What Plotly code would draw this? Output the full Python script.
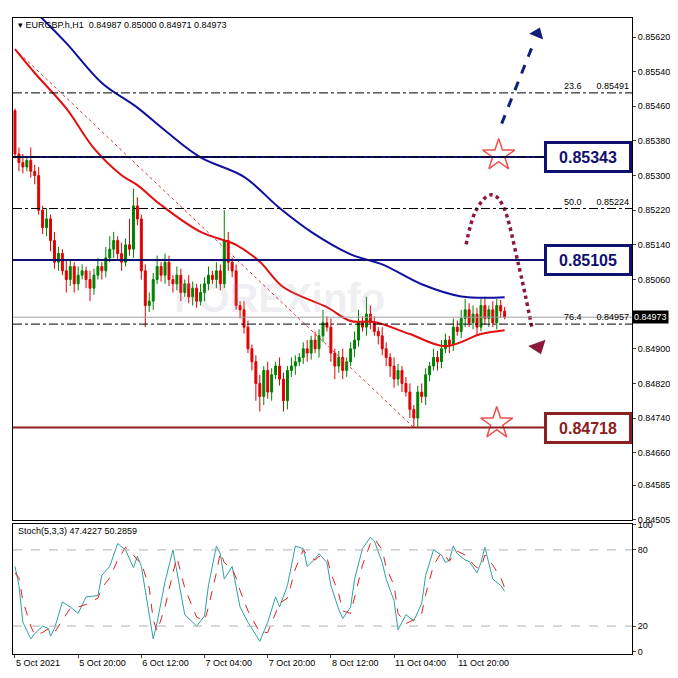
import plotly.graph_objects as go

time_labels = ["5 Oct 2021", "5 Oct 20:00", "6 Oct 12:00", "7 Oct 04:00", "7 Oct 20:00",
               "8 Oct 12:00", "11 Oct 04:00", "11 Oct 20:00"]
time_label_idx = [0, 16, 32, 48, 64, 80, 96, 112]

first_open = 85450
closes = [85350, 85330, 85320, 85335, 85310, 85300, 85220, 85180, 85200, 85150,
          85100, 85120, 85080, 85060, 85090, 85050, 85070, 85080, 85060, 85040,
          85070, 85090, 85080, 85110, 85130, 85150, 85120, 85100, 85140, 85130,
          85230, 85200, 85080, 85000, 85010, 85060, 85090, 85070, 85100, 85060,
          85050, 85070, 85030, 85050, 85020, 85040, 85010, 85030, 85050, 85070,
          85060, 85080, 85050, 85150, 85100, 85080, 85000, 84990, 84950, 84900,
          84870, 84820, 84790, 84850, 84800, 84840, 84860, 84830, 84780, 84850,
          84860, 84870, 84880, 84900, 84890, 84920, 84900, 84930, 84960, 84950,
          84890, 84860, 84880, 84850, 84870, 84900, 84920, 84960, 84950, 84980,
          84960, 84940, 84930, 84900, 84880, 84860, 84830, 84850, 84820, 84800,
          84760, 84740, 84800, 84790, 84840, 84860, 84880, 84870, 84900, 84920,
          84910, 84950, 84940, 84970, 84990, 84960, 84980, 84950, 85000, 84970,
          84990, 84960, 85000, 84987, 84973]
wick_up = [5, 15, 20, 10, 30, 15, 20, 10, 25, 10, 20, 15, 10, 25, 15, 10, 20, 15, 10, 20,
           15, 20, 10, 25, 30, 20, 10, 25, 15, 60, 40, 20, 10, 15, 20, 15, 25, 10, 20, 15,
           10, 20, 15, 10, 20, 15, 10, 20, 15, 20, 10, 20, 15, 70, 20, 10, 15, 10, 20, 15,
           10, 15, 20, 10, 20, 15, 10, 20, 15, 10, 20, 15, 10, 15, 20, 10, 20, 15, 30, 15,
           20, 10, 15, 20, 10, 15, 20, 30, 15, 40, 20, 15, 10, 20, 15, 10, 20, 15, 10, 15,
           20, 10, 15, 20, 15, 10, 20, 15, 20, 15, 10, 20, 15, 20, 25, 15, 20, 15, 15, 20,
           10, 20, 15, 13, 10]
wick_dn = [10, 20, 15, 10, 15, 20, 10, 15, 20, 25, 15, 20, 10, 30, 15, 20, 15, 10, 20, 30,
           15, 10, 20, 15, 10, 20, 15, 20, 10, 15, 20, 15, 20, 50, 15, 20, 10, 15, 20, 15,
           20, 15, 20, 10, 15, 20, 15, 10, 20, 15, 10, 20, 15, 10, 20, 15, 10, 20, 15, 10,
           20, 40, 35, 20, 15, 20, 10, 15, 25, 20, 15, 20, 10, 15, 20, 15, 10, 20, 15, 10,
           20, 30, 15, 20, 15, 10, 20, 15, 10, 20, 15, 10, 20, 15, 20, 25, 20, 15, 20, 10,
           20, 22, 20, 15, 20, 15, 10, 20, 15, 10, 20, 15, 10, 15, 20, 10, 15, 20, 10, 15,
           20, 10, 15, 16, 5]

ma_blue_idx = [5, 13, 22, 31, 38, 47, 58, 67, 75, 85, 93, 103, 113, 124]
ma_blue = [0.85680, 0.85606, 0.85514, 0.85457, 0.85404, 0.85342, 0.85297, 0.85225,
           0.85170, 0.85118, 0.85095, 0.85049, 0.85021, 0.85019]
ma_red_idx = [0, 5, 13, 20, 27, 31, 37, 47, 56, 62, 68, 79, 85, 91, 100, 109, 118, 124]
ma_red = [0.85592, 0.85537, 0.85455, 0.85363, 0.85301, 0.85278, 0.85232, 0.85170, 0.85140,
          0.85101, 0.85042, 0.84996, 0.84964, 0.84962, 0.84934, 0.84906, 0.84934, 0.84943]

stoch_idx = [0, 1, 2, 4, 5, 7, 8.5, 9, 10, 12, 14, 16, 18, 21, 22, 24, 26, 28, 30, 31, 32, 34,
             35, 36, 38, 40, 41, 43, 46, 48, 49, 51, 52, 53, 55, 56, 57, 59, 62, 64, 66, 67,
             69, 71, 73, 74, 76, 77, 79, 80, 82, 83, 85, 86, 88, 90, 91, 93, 94, 96, 97, 99,
             101, 103, 104, 106, 108, 109, 110, 111, 112, 114, 115, 117, 118, 119, 121, 123, 124]
stoch_main = [67, 52, 23, 10, 14, 20, 18, 12, 18, 39, 35, 30, 43, 44, 60, 67, 85, 80, 66, 75,
              67, 30, 10, 23, 55, 80, 62, 29, 20, 28, 52, 83, 77, 57, 67, 50, 35, 23, 8, 23,
              43, 35, 52, 83, 81, 67, 73, 77, 70, 52, 33, 26, 35, 57, 81, 90, 87, 70, 57, 40,
              17, 29, 24, 38, 60, 80, 76, 70, 72, 83, 77, 72, 71, 62, 70, 82, 57, 52, 47.4]
stoch_signal = [62, 58, 40, 20, 13, 15, 18, 16, 15, 25, 34, 35, 37, 42, 50, 58, 72, 82, 76, 72,
                70, 50, 25, 16, 35, 62, 74, 50, 27, 24, 35, 62, 78, 70, 65, 58, 48, 32, 15, 15,
                30, 38, 42, 65, 80, 76, 72, 75, 74, 62, 45, 32, 30, 42, 68, 85, 89, 80, 66, 52,
                30, 22, 25, 30, 45, 68, 78, 75, 71, 76, 79, 76, 72, 66, 66, 76, 68, 58, 50.3]

levels_box = [(0.85343, "#101070"), (0.85105, "#101070"), (0.84718, "#8b2020")]
fib_levels = [(0.85491, "23.6"), (0.85224, "50.0"), (0.84957, "76.4")]
last_price = 0.84973
price_ticks = [0.85620, 0.85540, 0.85460, 0.85380, 0.85300, 0.85220, 0.85140, 0.85060,
               0.84900, 0.84820, 0.84740, 0.84660, 0.84585, 0.84505]

S = 1e5
idx = list(range(len(closes)))
opens = [first_open / S] + [c / S for c in closes[:-1]]
cl = [c / S for c in closes]
hi = [max(o, c) + w / S for o, c, w in zip(opens, cl, wick_up)]
lo = [min(o, c) - w / S for o, c, w in zip(opens, cl, wick_dn)]

fig = go.Figure()
XR = [-0.5, 156.25]
FONT = "Liberation Sans"

for p, col in levels_box:
    fig.add_shape(type="line", xref="x", yref="y", x0=XR[0], x1=134, y0=p, y1=p,
                  line=dict(color=col, width=2))
for p, lab in fib_levels:
    fig.add_shape(type="line", xref="x", yref="y", x0=XR[0], x1=XR[1], y0=p, y1=p,
                  line=dict(color="black", width=1, dash="dashdot"))
    fig.add_annotation(x=XR[1] - 0.3, y=p, xref="x", yref="y", text=f"{lab}      {p:.5f}",
                       showarrow=False, xanchor="right", yanchor="bottom",
                       font=dict(size=9, color="black", family=FONT))
fig.add_shape(type="line", xref="x", yref="y", x0=XR[0], x1=XR[1], y0=0.85343, y1=0.85343,
              line=dict(color="black", width=1, dash="dashdot"))
fig.add_shape(type="line", xref="x", yref="y", x0=XR[0], x1=XR[1], y0=last_price, y1=last_price,
              line=dict(color="#a0a0a0", width=1))
fig.add_trace(go.Scatter(x=[0, 101], y=[0.85592, 0.84718], mode="lines",
                         line=dict(color="#e03030", width=1, dash="dot"), showlegend=False))

fig.add_trace(go.Candlestick(x=idx, open=opens, high=hi, low=lo, close=cl,
                             increasing=dict(line=dict(color="#008000", width=1), fillcolor="#008000"),
                             decreasing=dict(line=dict(color="#e00000", width=1), fillcolor="#e00000"),
                             whiskerwidth=0, showlegend=False))
fig.add_trace(go.Scatter(x=ma_blue_idx, y=ma_blue, mode="lines", line=dict(color="#1010a0", width=2, shape="spline"), showlegend=False))
fig.add_trace(go.Scatter(x=ma_red_idx, y=ma_red, mode="lines", line=dict(color="#e01010", width=2, shape="spline"), showlegend=False))

fig.add_trace(go.Scatter(x=[123.25, 131.5], y=[0.85420, 0.85610], mode="lines",
                         line=dict(color="#10207a", width=3, dash="dash"), showlegend=False))
fig.add_trace(go.Scatter(x=[132.3], y=[0.85628], mode="markers",
                         marker=dict(symbol="triangle-up", size=13, color="#10207a", angle=22), showlegend=False))
fig.add_trace(go.Scatter(x=[114.25, 116.5, 119.5, 121.25, 123.5, 127.5, 131.0],
                         y=[0.85141, 0.85215, 0.85252, 0.85255, 0.85232, 0.85095, 0.84945],
                         mode="lines", line=dict(color="#8b1a3a", width=3.5, dash="dot", shape="spline"), showlegend=False))
fig.add_trace(go.Scatter(x=[132.5], y=[0.84905], mode="markers",
                         marker=dict(symbol="triangle-down", size=16, color="#8b1a3a", angle=-20), showlegend=False))
fig.add_trace(go.Scatter(x=[122.5, 122], y=[0.85347, 0.84728], mode="markers",
                         marker=dict(symbol="star-open", size=24, color="#f05050", line=dict(width=1.5)),
                         showlegend=False))

for p, col in levels_box:
    fig.add_annotation(x=145.0, y=p, xref="x", yref="y", text=f"<b>{p:.5f}</b>", showarrow=False,
                       font=dict(size=16, color=col, family="Liberation Sans Narrow, Arial"),
                       bordercolor=col, borderwidth=3, bgcolor="white", width=80, height=24)
fig.add_annotation(x=1.0, y=last_price, xref="paper", yref="y", text="0.84973", showarrow=False,
                   xanchor="left", font=dict(size=9, color="white", family=FONT),
                   bgcolor="black", borderpad=1)

fig.add_trace(go.Scatter(x=stoch_idx, y=stoch_main, mode="lines", line=dict(color="#30a0a0", width=1),
                         xaxis="x2", yaxis="y2", showlegend=False))
fig.add_trace(go.Scatter(x=stoch_idx, y=stoch_signal, mode="lines", line=dict(color="#e02020", width=1, dash="dash"),
                         xaxis="x2", yaxis="y2", showlegend=False))
for lv in (20, 80):
    fig.add_shape(type="line", xref="x2", yref="y2", x0=XR[0], x1=XR[1], y0=lv, y1=lv,
                  line=dict(color="#b0b0b0", width=1, dash="dash"))

fig.add_annotation(x=0.005, y=1.0, xref="paper", yref="paper", text="▾ EURGBP.h,H1  0.84987 0.85000 0.84971 0.84973",
                   showarrow=False, xanchor="left", yanchor="top", font=dict(size=9, color="black", family=FONT))
fig.add_annotation(x=0.005, y=0.205, xref="paper", yref="paper", text="Stoch(5,3,3) 47.4227 50.2859",
                   showarrow=False, xanchor="left", yanchor="top", font=dict(size=9, color="black", family=FONT))
fig.add_annotation(x=0.43, y=0.56, xref="paper", yref="paper", text="<b>FOREXinfo</b>", showarrow=False,
                   font=dict(size=40, color="rgba(150,150,180,0.18)", family=FONT))

tf = dict(size=9, color="black", family=FONT)
fig.update_layout(
    width=678, height=678, paper_bgcolor="white", plot_bgcolor="white",
    margin=dict(l=5, r=54, t=10, b=32),
    xaxis=dict(range=XR, domain=[0, 1], anchor="y", showticklabels=False, showgrid=False, automargin=False,
               rangeslider=dict(visible=False), showline=True, linecolor="black", mirror=True, zeroline=False),
    yaxis=dict(range=[0.84505, 0.85664], domain=[0.211, 1], side="right", tickvals=price_ticks,
               ticktext=[f"{v:.5f}" for v in price_ticks], tickfont=tf, ticks="outside", ticklen=3,
               automargin=False, showgrid=False, showline=True, linecolor="black", mirror=True, zeroline=False),
    xaxis2=dict(range=XR, domain=[0, 1], anchor="y2", tickvals=time_label_idx, ticktext=time_labels,
                tickfont=tf, ticks="outside", ticklen=3, showgrid=False, showline=True, automargin=False,
                ticklabelposition="outside right",
                linecolor="black", mirror=True, zeroline=False),
    yaxis2=dict(range=[-2, 100.7], domain=[0, 0.205], side="right", anchor="x2", tickvals=[0, 20, 80, 100],
                tickfont=tf, ticks="outside", ticklen=3, showgrid=False, showline=True, automargin=False,
                linecolor="black", mirror=True, zeroline=False),
)
fig.write_html("out.html")
